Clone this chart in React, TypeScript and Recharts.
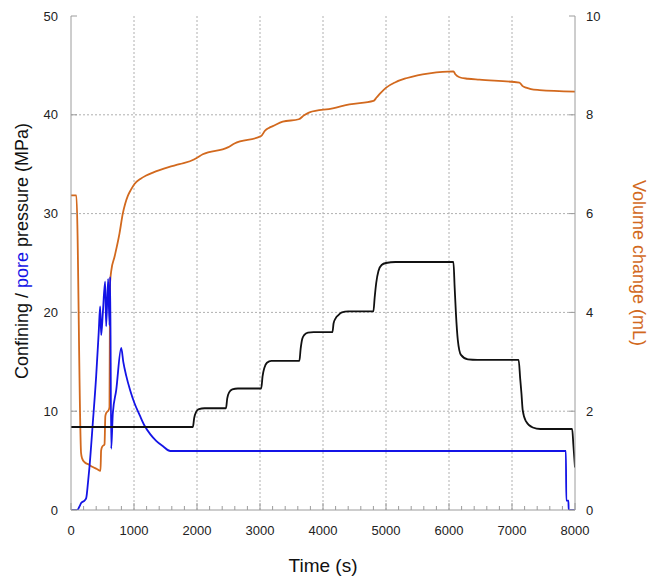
import React from "react";
import { ComposedChart, Line, XAxis, YAxis, CartesianGrid } from "recharts";

const FONT = "'Liberation Sans', Arial, Helvetica, sans-serif";
const AXIS = "#9c9c9c";
const ORANGE = "#d2691e";
const BLUE = "#1414e6";
const BLACK = "#111111";

// tick values
const timeMajor = [0, 1000, 2000, 3000, 4000, 5000, 6000, 7000, 8000];
const timeMinor = Array.from({ length: 41 }, (_, i) => i * 200);
const pressureTicks = [0, 10, 20, 30, 40, 50];
const volumeTicks = [0, 2, 4, 6, 8, 10];

// [time (s), confining pressure (MPa)]
const confining: [number, number][] = [
  [0, 8.4], [1935, 8.4], [1955, 9.3], [1985, 9.9], [2030, 10.2], [2120, 10.3],
  [2460, 10.3], [2480, 11.3], [2510, 11.9], [2560, 12.2], [2650, 12.3],
  [3020, 12.3], [3040, 13.5], [3070, 14.4], [3110, 14.9], [3180, 15.1],
  [3625, 15.1], [3645, 16.3], [3670, 17.3], [3700, 17.7], [3760, 17.95], [3850, 18.0],
  [4150, 18.0], [4168, 18.9], [4200, 19.4], [4240, 19.7], [4300, 20.0], [4400, 20.1],
  [4800, 20.1], [4820, 21.5], [4845, 23.0], [4880, 24.2], [4930, 24.8], [5000, 25.0], [5150, 25.1],
  [6070, 25.1], [6090, 22.5], [6110, 19.9], [6140, 17.2], [6190, 15.7], [6300, 15.25], [6450, 15.2],
  [7105, 15.2], [7130, 13.3], [7150, 11.8], [7170, 10.1], [7220, 9.0], [7330, 8.35], [7450, 8.2],
  [7955, 8.2], [7975, 6.5], [8000, 4.3],
];

// [time (s), pore pressure (MPa)]
const pore: [number, number][] = [
  [0, 0], [100, 0], [130, 0.3], [161, 0.7], [214, 0.95], [241, 1.2], [270, 2.8],
  [294, 4.4], [346, 8.8], [399, 13.5], [440, 18.0], [463, 20.6], [479, 17.7],
  [505, 19.9], [542, 23.1], [558, 18.6], [590, 23.4], [611, 18.7], [622, 23.6],
  [638, 6.2], [664, 9.8], [717, 12.1], [797, 16.4], [830, 15.0], [876, 13.6],
  [940, 12.1], [1008, 10.8], [1090, 9.6], [1166, 8.55], [1260, 7.65], [1352, 7.0],
  [1460, 6.45], [1575, 5.97], [7855, 5.97], [7862, 0.94], [7895, 0.94], [7900, 0], [8000, 0],
];

// [time (s), volume change (mL)]
const volume: [number, number][] = [
  [0, 6.37], [85, 6.37], [160, 1.15], [175, 1.05], [214, 0.97], [280, 0.92], [346, 0.87],
  [410, 0.83], [468, 0.79], [478, 1.2], [495, 1.28], [532, 1.33], [545, 1.9], [558, 1.96],
  [600, 2.03], [611, 2.09], [620, 4.6], [640, 4.85], [690, 5.12], [770, 5.6], [822, 6.0],
  [860, 6.2], [902, 6.36], [950, 6.48], [1008, 6.6], [1100, 6.7], [1193, 6.77], [1300, 6.83],
  [1405, 6.88], [1550, 6.94], [1722, 7.0], [1960, 7.1], [2000, 7.13], [2092, 7.2], [2489, 7.34],
  [2595, 7.42], [3018, 7.57], [3080, 7.68], [3150, 7.74], [3203, 7.77], [3361, 7.86], [3615, 7.91],
  [3700, 7.99], [3785, 8.05], [4155, 8.13], [4420, 8.21], [4801, 8.28], [4850, 8.35], [4920, 8.45],
  [5003, 8.55], [5150, 8.66], [5320, 8.74], [5500, 8.8], [5690, 8.84], [6070, 8.88], [6100, 8.82],
  [6166, 8.76], [6300, 8.73], [6483, 8.71], [7118, 8.65], [7170, 8.58], [7224, 8.55], [7300, 8.52],
  [7435, 8.5], [8000, 8.47],
];

const toRows = (pts: [number, number][]) => pts.map(([t, v]) => ({ t, v }));

const BottomTick = ({ x, y, payload }: any) => {
  const major = timeMajor.includes(payload.value);
  return (
    <g>
      <line x1={x} y1={y} x2={x} y2={y - (major ? 7 : 4)} stroke={AXIS} />
      {major && (
        <text x={x} y={y + 25} textAnchor="middle" fontSize={13} fill="#222" fontFamily={FONT}>
          {payload.value}
        </text>
      )}
    </g>
  );
};

const TopTick = ({ x, y, payload }: any) => {
  const major = timeMajor.includes(payload.value);
  return <line x1={x} y1={y} x2={x} y2={y + (major ? 7 : 4)} stroke={AXIS} />;
};

const LeftTick = ({ x, y, payload }: any) => (
  <g>
    <line x1={x} y1={y} x2={x + 6} y2={y} stroke={AXIS} />
    <text x={x - 13} y={y} dy={4.5} textAnchor="end" fontSize={13} fill="#222" fontFamily={FONT}>
      {payload.value}
    </text>
  </g>
);

const RightTick = ({ x, y, payload }: any) => (
  <g>
    <line x1={x} y1={y} x2={x - 6} y2={y} stroke={AXIS} />
    <text x={x + 11} y={y} dy={4.5} textAnchor="start" fontSize={13} fill="#222" fontFamily={FONT}>
      {payload.value}
    </text>
  </g>
);

const TimeTitle = () => (
  <text x={323} y={572} textAnchor="middle" fontSize={19} fill="#111" fontFamily={FONT}>
    Time (s)
  </text>
);

const PressureTitle = () => (
  <text transform="translate(28,251) rotate(-90)" textAnchor="middle" fontSize={18} fill="#111" fontFamily={FONT}>
    Confining / <tspan fill={BLUE}>pore</tspan> pressure (MPa)
  </text>
);

const VolumeTitle = () => (
  <text transform="translate(633,263) rotate(90)" textAnchor="middle" fontSize={18} fill={ORANGE} fontFamily={FONT}>
    Volume change (mL)
  </text>
);

export default function App() {
  return (
    <div style={{ position: "absolute", left: 0, top: 0, width: 649, height: 577, background: "#fff" }}>
      <ComposedChart width={649} height={577} margin={{ top: 16, right: 0, bottom: 0, left: 0 }}>
        <CartesianGrid
          xAxisId="t"
          yAxisId="p"
          verticalValues={[1000, 2000, 3000, 4000, 5000, 6000, 7000]}
          horizontalValues={[10, 20, 30, 40]}
          stroke="#b0b0b0"
          strokeDasharray="2 2"
        />
        <XAxis
          xAxisId="t"
          dataKey="t"
          type="number"
          domain={[0, 8000]}
          allowDataOverflow
          ticks={timeMinor}
          interval={0}
          tick={BottomTick}
          tickLine={false}
          tickSize={0}
          tickMargin={0}
          height={67}
          stroke={AXIS}
          label={{ value: "Time (s)", content: TimeTitle }}
        />
        <XAxis
          xAxisId="top"
          orientation="top"
          dataKey="t"
          type="number"
          domain={[0, 8000]}
          allowDataOverflow
          ticks={timeMinor}
          interval={0}
          tick={TopTick}
          tickLine={false}
          tickSize={0}
          tickMargin={0}
          height={0}
          stroke={AXIS}
        />
        <YAxis
          yAxisId="p"
          type="number"
          domain={[0, 50]}
          allowDataOverflow
          ticks={pressureTicks}
          interval={0}
          tick={LeftTick}
          tickLine={false}
          tickSize={0}
          tickMargin={0}
          width={71}
          stroke={AXIS}
          label={{ value: "Confining / pore pressure (MPa)", content: PressureTitle }}
        />
        <YAxis
          yAxisId="vol"
          orientation="right"
          type="number"
          domain={[0, 10]}
          allowDataOverflow
          ticks={volumeTicks}
          interval={0}
          tick={RightTick}
          tickLine={false}
          tickSize={0}
          tickMargin={0}
          width={74}
          stroke={AXIS}
          label={{ value: "Volume change (mL)", content: VolumeTitle }}
        />
        <Line xAxisId="t" yAxisId="vol" data={toRows(volume)} dataKey="v" type="monotone" stroke={ORANGE} strokeWidth={1.8} dot={false} isAnimationActive={false} />
        <Line xAxisId="t" yAxisId="p" data={toRows(pore)} dataKey="v" type="monotone" stroke={BLUE} strokeWidth={1.8} dot={false} isAnimationActive={false} />
        <Line xAxisId="t" yAxisId="p" data={toRows(confining)} dataKey="v" type="monotone" stroke={BLACK} strokeWidth={1.8} dot={false} isAnimationActive={false} />
      </ComposedChart>
    </div>
  );
}
